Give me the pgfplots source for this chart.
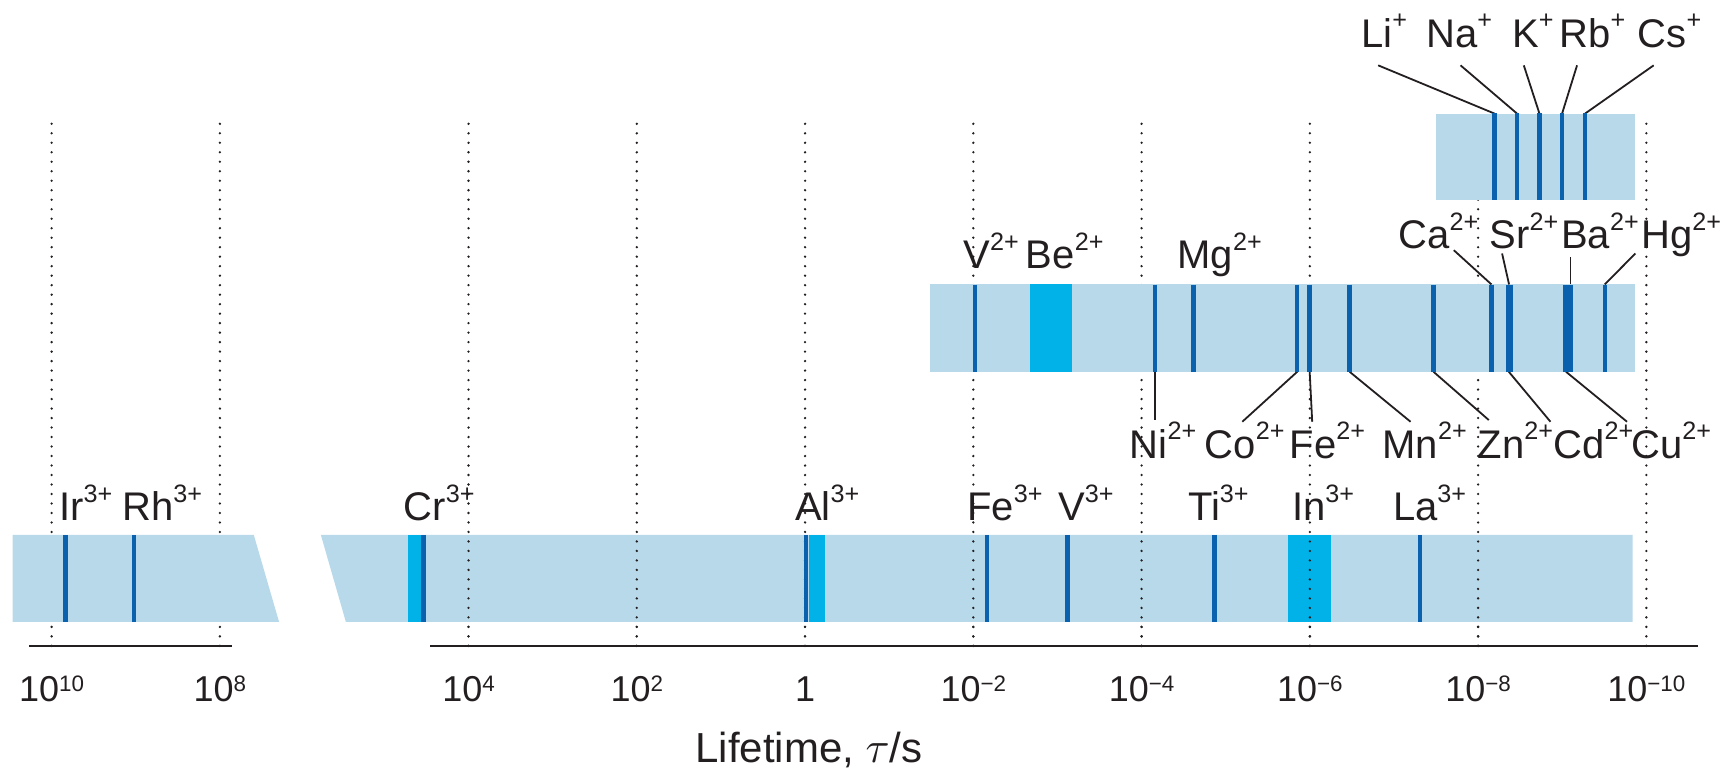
\documentclass[border=0pt]{standalone}
\usepackage{fontspec}
\setmainfont{Liberation Sans}
\usepackage{pgfplots}
\pgfplotsset{compat=1.18}
\definecolor{band}{RGB}{184,217,234}
\definecolor{ion}{RGB}{10,98,174}
\definecolor{hi}{RGB}{0,178,232}
\definecolor{ink}{RGB}{35,31,32}
% ion charge superscript and tick exponent
\newcommand\su[1]{\raisebox{4.6pt}{\fontsize{6.3}{7}\selectfont #1}}
\newcommand\ex[1]{\raisebox{2.6pt}{\fontsize{5.6}{6}\selectfont #1}}
\begin{document}
\begin{tikzpicture}[lab/.style={anchor=base west, inner sep=0pt, font=\fontsize{10}{12}\selectfont, text=ink}]
% x = -log10(tau/s) on the right segment; left segment (10^10..10^8) shifted by +1.045 (axis break)
\begin{axis}[
  width=430.25pt, height=192.25pt, scale only axis,
  xmin=-9.5689, xmax=10.8705, ymin=0, ymax=769,
  clip=false,
  axis line style={draw=none},
  ytick=\empty,
  xtick={-8.955,-6.955,-4,-2,0,2,4,6,8,10},
  xticklabels={10\ex{10},10\ex{8},10\ex{4},10\ex{2},1,10\ex{−2},10\ex{−4},10\ex{−6},10\ex{−8},10\ex{−10}},
  major tick length=0pt,
  xticklabel style={anchor=base, yshift=16.75pt, inner sep=0pt, font=\fontsize{9}{10}\selectfont, text=ink},
  xlabel={Lifetime, $\tau$/s},
  xlabel style={at={(rel axis cs:0.4704,0)}, anchor=base, yshift=1.6pt, inner sep=0pt, font=\fontsize{10.5}{12}\selectfont, text=ink},
  dots/.style={ink, line width=0.65pt, line cap=round, dash pattern=on 0pt off 2.375pt},
  lead/.style={ink, line width=0.45pt},
  ionl/.style={only marks, mark=|, mark size=10.9pt, mark options={line width=1.1pt, draw=ion}},
]
% dotted decade lines
\addplot[dots] coordinates {(-8.955,123)(-8.955,653.3)};
\addplot[dots] coordinates {(-6.955,123)(-6.955,653.3)};
\addplot[dots] coordinates {(-4,123)(-4,653.3)};
\addplot[dots] coordinates {(-2,123)(-2,653.3)};
\addplot[dots] coordinates {(0,123)(0,653.3)};
\addplot[dots] coordinates {(2,123)(2,653.3)};
\addplot[dots] coordinates {(4,123)(4,653.3)};
\addplot[dots] coordinates {(6,123)(6,653.3)};
\addplot[dots] coordinates {(8,123)(8,653.3)};
\addplot[dots] coordinates {(10,123)(10,653.3)};

% bands
\addplot[fill=band, draw=none] coordinates {(-9.418,147)(-9.418,234)(-6.552,234)(-6.252,147)} -- cycle;
\addplot[fill=band, draw=none] coordinates {(-5.458,147)(-5.755,234)(9.837,234)(9.837,147)} -- cycle;
\addplot[fill=band, draw=none] coordinates {(1.485,397.3)(1.485,484.7)(9.869,484.7)(9.869,397.3)} -- cycle;
\addplot[fill=band, draw=none] coordinates {(7.501,569)(7.501,655.7)(9.869,655.7)(9.869,569)} -- cycle;

% highlighted ranges
\addplot[fill=hi, draw=none] coordinates {(-4.72,147)(-4.72,234)(-4.56,234)(-4.56,147)} -- cycle;
\addplot[fill=hi, draw=none] coordinates {(0.043,147)(0.043,234)(0.2375,234)(0.2375,147)} -- cycle;
\addplot[fill=hi, draw=none] coordinates {(5.74,147)(5.74,234)(6.254,234)(6.254,147)} -- cycle;
\addplot[fill=hi, draw=none] coordinates {(2.676,397.3)(2.676,484.7)(3.171,484.7)(3.171,397.3)} -- cycle;

% ion lines: bottom band (M3+)
\addplot[ionl] coordinates {(-8.789,190.5)(-7.974,190.5)(-4.535,190.5)(0.011,190.5)(2.16,190.5)(3.12,190.5)(4.865,190.5)(7.31,190.5)};
% middle band (M2+)
\addplot[ionl] coordinates {(2.022,441)(4.157,441)(4.615,441)(5.85,441)(5.998,441)(6.473,441)(7.47,441)(8.159,441)(9.505,441)};
\addplot[ionl, mark options={line width=1.75pt, draw=ion}] coordinates {(8.368,441)};
\addplot[ionl, mark options={line width=2.5pt, draw=ion}] coordinates {(9.07,441)};
% top band (M+)
\addplot[ionl] coordinates {(8.195,612.35)(8.463,612.35)(8.729,612.35)(8.998,612.35)(9.271,612.35)};

% dotted lines visible over the lower right band
\addplot[dots] coordinates {(-4,123)(-4,234)};
\addplot[dots] coordinates {(-2,123)(-2,234)};
\addplot[dots] coordinates {(0,123)(0,234)};
\addplot[dots] coordinates {(2,123)(2,234)};
\addplot[dots] coordinates {(4,123)(4,234)};
\addplot[dots] coordinates {(6,123)(6,234)};
\addplot[dots] coordinates {(8,123)(8,234)};

% leader lines
\addplot[lead] coordinates {(8.195,655.7)(6.812,704)};
\addplot[lead] coordinates {(8.463,655.7)(7.791,704)};
\addplot[lead] coordinates {(8.729,655.7)(8.543,704)};
\addplot[lead] coordinates {(8.998,655.7)(9.176,704)};
\addplot[lead] coordinates {(9.271,655.7)(10.087,704)};
\addplot[lead] coordinates {(8.159,484.7)(7.711,519)};
\addplot[lead] coordinates {(8.368,484.7)(8.285,515.7)};
\addplot[lead] coordinates {(9.097,484.7)(9.097,512.3)};
\addplot[lead] coordinates {(9.505,484.7)(9.869,515.7)};
\addplot[lead] coordinates {(4.157,397.3)(4.157,349)};
\addplot[lead] coordinates {(5.85,397.3)(5.197,347.3)};
\addplot[lead] coordinates {(5.998,397.3)(6.028,347.3)};
\addplot[lead] coordinates {(6.473,397.3)(7.197,347.3)};
\addplot[lead] coordinates {(7.47,397.3)(8.127,349)};
\addplot[lead] coordinates {(8.365,397.3)(8.860,347.3)};
\addplot[lead] coordinates {(9.045,397.3)(9.770,347.3)};

% axis line segments
\addplot[ink, line width=0.6pt] coordinates {(-9.221,123)(-6.81,123)};
\addplot[ink, line width=0.6pt] coordinates {(-4.454,123)(10.61,123)};

% labels
\node[lab] at (axis cs:-8.876,248) {Ir\su{3+}};
\node[lab] at (axis cs:-8.124,248) {Rh\su{3+}};
\node[lab] at (axis cs:-4.779,248) {Cr\su{3+}};
\node[lab] at (axis cs:-0.127,248) {Al\su{3+}};
\node[lab] at (axis cs:1.919,248) {Fe\su{3+}};
\node[lab] at (axis cs:3.0,248) {V\su{3+}};
\node[lab] at (axis cs:4.544,248) {Ti\su{3+}};
\node[lab] at (axis cs:5.779,248) {In\su{3+}};
\node[lab] at (axis cs:6.979,248) {La\su{3+}};

\node[lab] at (axis cs:1.872,500.7) {V\su{2+}};
\node[lab] at (axis cs:2.616,500.7) {Be\su{2+}};
\node[lab] at (axis cs:4.418,500.7) {Mg\su{2+}};
\node[lab] at (axis cs:7.046,520.7) {Ca\su{2+}};
\node[lab] at (axis cs:8.127,520.7) {Sr\su{2+}};
\node[lab] at (axis cs:8.979,520.7) {Ba\su{2+}};
\node[lab] at (axis cs:9.929,520.7) {Hg\su{2+}};

\node[lab] at (axis cs:3.852,311) {Ni\su{2+}};
\node[lab] at (axis cs:4.742,311) {Co\su{2+}};
\node[lab] at (axis cs:5.752,311) {Fe\su{2+}};
\node[lab] at (axis cs:6.856,311) {Mn\su{2+}};
\node[lab] at (axis cs:7.985,311) {Zn\su{2+}};
\node[lab] at (axis cs:8.888,311) {Cd\su{2+}};
\node[lab] at (axis cs:9.81,311) {Cu\su{2+}};

\node[lab] at (axis cs:6.603,722.3) {Li\su{+}};
\node[lab] at (axis cs:7.375,722.3) {Na\su{+}};
\node[lab] at (axis cs:8.397,722.3) {K\su{+}};
\node[lab] at (axis cs:8.958,722.3) {Rb\su{+}};
\node[lab] at (axis cs:9.888,722.3) {Cs\su{+}};
\end{axis}
\end{tikzpicture}
\end{document}
